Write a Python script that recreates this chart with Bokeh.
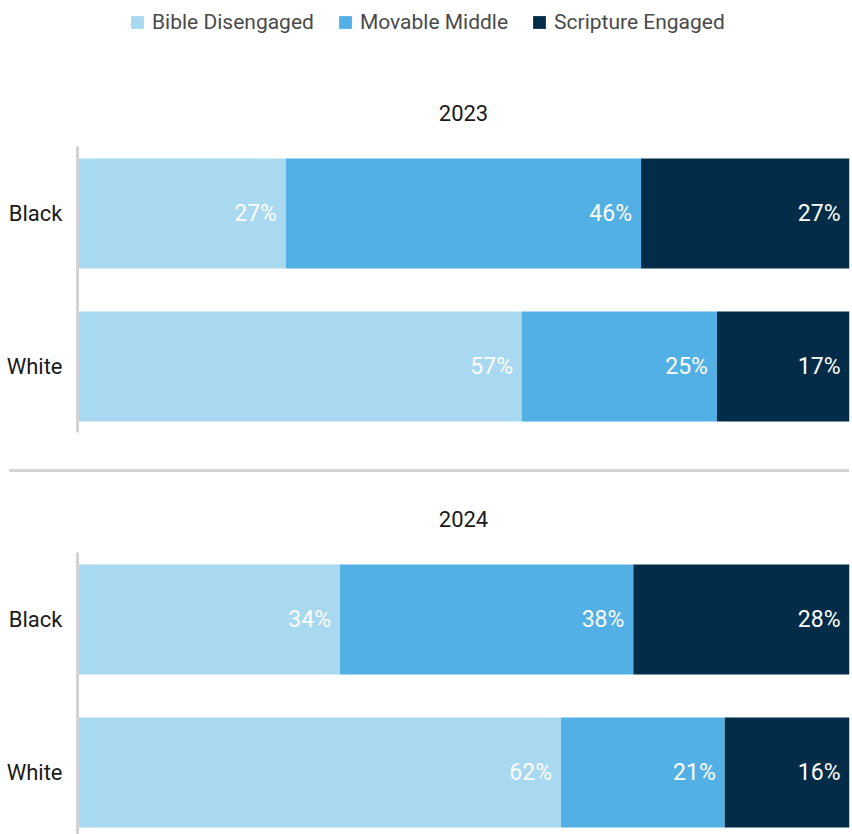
from bokeh.plotting import figure
from bokeh.models import ColumnDataSource, Range1d, FixedTicker, Legend, LegendItem, Div
from bokeh.layouts import column
from bokeh.embed import file_html
from bokeh.resources import INLINE
from bokeh.core.properties import value

FONT = "Roboto"

# ---- data ----
categories = ["Black", "White"]
series_names = ["Bible Disengaged", "Movable Middle", "Scripture Engaged"]
colors = ["#A9D8F1", "#53B0E4", "#032C48"]
years = ["2023", "2024"]
bible_disengaged_2023 = [27, 57]
movable_middle_2023 = [46, 25]
scripture_engaged_2023 = [27, 17]
bible_disengaged_2024 = [34, 62]
movable_middle_2024 = [38, 21]
scripture_engaged_2024 = [28, 16]

W = 852
LEFT = 77
RIGHT = 3
BAR_H = 0.719
NAN = float("nan")


def legend_fig():
    p = figure(width=W, height=44, output_backend="svg", toolbar_location=None,
               x_range=Range1d(0, 1), y_range=Range1d(0, 1),
               x_axis_location=None, y_axis_location=None, min_border=0)
    p.outline_line_color = None
    p.xgrid.visible = False
    p.ygrid.visible = False
    items = []
    for name, c in zip(series_names, colors):
        # legend-only renderer (no visible mark)
        r = p.hbar(y=[NAN], right=[NAN], height=1, fill_color=c, line_color=None)
        items.append(LegendItem(label=name, renderers=[r]))
    leg = Legend(items=items, orientation="horizontal", location=(52, 10),
                 glyph_width=16, glyph_height=16, label_standoff=7, spacing=23,
                 padding=0, margin=0, border_line_color=None,
                 background_fill_alpha=0, label_text_font=FONT,
                 label_text_font_size="21px", label_text_color="#4a4a4a")
    p.add_layout(leg)
    return p


def panel(year, bd, mm, se, height, top, bottom, y_lo, y_hi):
    ys = [1, 0]
    totals = [a + b + c for a, b, c in zip(bd, mm, se)]
    s_bd = [a / t * 100 for a, t in zip(bd, totals)]
    s_mm = [a / t * 100 for a, t in zip(mm, totals)]
    s_se = [a / t * 100 for a, t in zip(se, totals)]
    src = ColumnDataSource(dict(y=ys, bd=s_bd, mm=s_mm, se=s_se))
    p = figure(width=W, height=height, x_range=Range1d(0, 100),
               y_range=Range1d(y_lo, y_hi), x_axis_location=None,
               output_backend="svg", toolbar_location=None,
               min_border_left=LEFT, min_border_right=RIGHT,
               min_border_top=top, min_border_bottom=bottom, title=year)
    p.hbar_stack(["bd", "mm", "se"], y="y", height=BAR_H, fill_color=colors,
                 line_color=None, source=src)
    xs, yy, tt = [], [], []
    for i, y in enumerate(ys):
        cum = 0
        for shares, vals in ((s_bd, bd), (s_mm, mm), (s_se, se)):
            cum += shares[i]
            xs.append(cum)
            yy.append(y)
            tt.append(f"{vals[i]}%")
    lsrc = ColumnDataSource(dict(x=xs, y=yy, t=tt))
    p.text(x="x", y="y", text="t", source=lsrc, text_align="right",
           text_baseline="middle", x_offset=-9, text_color="white",
           text_font=value(FONT), text_font_size="23px")

    p.yaxis.ticker = FixedTicker(ticks=ys)
    p.yaxis.major_label_overrides = {y: c for y, c in zip(ys, categories)}
    p.yaxis.axis_line_color = "#D3D3D3"
    p.yaxis.axis_line_width = 3
    p.yaxis.major_tick_line_color = None
    p.yaxis.minor_tick_line_color = None
    p.yaxis.major_tick_out = 0
    p.yaxis.major_tick_in = 0
    p.yaxis.major_label_standoff = 15
    p.yaxis.major_label_text_font = FONT
    p.yaxis.major_label_text_font_size = "22px"
    p.yaxis.major_label_text_color = "#1a1a1a"
    p.xgrid.visible = False
    p.ygrid.visible = False
    p.outline_line_color = None
    p.title.align = "center"
    p.title.offset = -34
    p.title.padding = dict(left=0, right=0, top=0, bottom=21)
    p.title.text_font = FONT
    p.title.text_font_size = "22px"
    p.title.text_font_style = "normal"
    p.title.text_color = "#1a1a1a"
    return p


leg = legend_fig()
p1 = panel(years[0], bible_disengaged_2023, movable_middle_2023,
           scripture_engaged_2023, 425, 102, 37, -0.4314, 1.4379)
sep = Div(text="", width=840, height=3, margin=(0, 0, 0, 9),
          styles={"background-color": "#D3D3D3"})
p2 = panel(years[1], bible_disengaged_2024, movable_middle_2024,
           scripture_engaged_2024, 362, 80, 0, -0.4052, 1.4379)

layout = column(leg, p1, sep, p2, spacing=0)
open("out.html", "w").write(file_html(layout, INLINE))
